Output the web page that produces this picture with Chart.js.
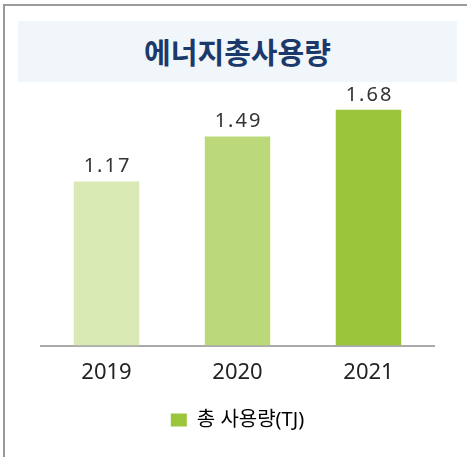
<!DOCTYPE html>
<html lang="ko">
<head>
  <meta charset="UTF-8">
  <title>에너지총사용량</title>
  <script src="https://cdn.jsdelivr.net/npm/chart.js"></script>
  <style>
    body {
      margin: 0;
      width: 467px;
      height: 457px;
      background: #fff;
      overflow: hidden;
      position: relative;
    }
    .frame {
      position: absolute;
      left: 3px;
      top: 4px;
      width: 470px;
      height: 460px;
      border-top: 2px solid #9a9a9a;
      border-left: 2px solid #9a9a9a;
    }
    .title-box {
      position: absolute;
      left: 18px;
      top: 21px;
      width: 439px;
      height: 61px;
      background: #f1f6fb;
      color: #1b3a6b;
      font: bold 29px 'Noto Sans CJK KR', sans-serif;
      line-height: 61px;
      text-align: center;
    }
    .chart-container {
      position: absolute;
      left: 0;
      top: 0;
      width: 467px;
      height: 457px;
    }
  </style>
</head>
<body>
  <div class="frame"></div>
  <div class="title-box">에너지총사용량</div>
  <div class="chart-container">
    <canvas id="energyChart"></canvas>
  </div>

  <script>
    const years = ['2019', '2020', '2021'];
    const totalUsage = [1.17, 1.49, 1.68];
    const barColors = ['#d8e9b3', '#bcd979', '#9bc53a'];
    const seriesLabel = '총 사용량(TJ)';

    const fontFamily = "'Noto Sans', 'Noto Sans CJK KR', sans-serif";

    // 막대 위 값 표시
    const valueLabels = {
      id: 'valueLabels',
      afterDatasetsDraw(chart) {
        const ctx = chart.ctx;
        const meta = chart.getDatasetMeta(0);
        ctx.save();
        ctx.font = '20px ' + fontFamily;
        ctx.fillStyle = '#333';
        ctx.textAlign = 'center';
        ctx.textBaseline = 'bottom';
        ctx.letterSpacing = '2px';
        meta.data.forEach((bar, i) => {
          ctx.fillText(totalUsage[i].toFixed(2), bar.x + 1, bar.y - 5);
        });
        ctx.restore();
      }
    };

    new Chart(document.getElementById('energyChart'), {
      type: 'bar',
      data: {
        labels: years,
        datasets: [{
          label: seriesLabel,
          data: totalUsage,
          backgroundColor: barColors,
          borderWidth: 0,
          barPercentage: 0.5,
          categoryPercentage: 1.0
        }]
      },
      options: {
        responsive: true,
        maintainAspectRatio: false,
        animation: false,
        layout: {
          padding: { left: 41, right: 33, top: 93, bottom: 17 }
        },
        scales: {
          y: {
            display: false,
            min: 0,
            max: 1.8
          },
          x: {
            grid: { display: false, drawTicks: false },
            border: { display: true, color: '#aaaaaa', width: 2 },
            ticks: {
              color: '#222',
              padding: 14,
              font: { size: 22, family: fontFamily }
            }
          }
        },
        plugins: {
          legend: {
            position: 'bottom',
            labels: {
              color: '#222',
              boxWidth: 16,
              boxHeight: 13,
              padding: 10,
              font: { size: 20, family: fontFamily },
              generateLabels: () => [{
                text: seriesLabel,
                fillStyle: '#9bc53a',
                strokeStyle: '#9bc53a',
                lineWidth: 0,
                hidden: false,
                datasetIndex: 0
              }]
            }
          },
          tooltip: { enabled: false }
        }
      },
      plugins: [valueLabels]
    });
  </script>
</body>
</html>
